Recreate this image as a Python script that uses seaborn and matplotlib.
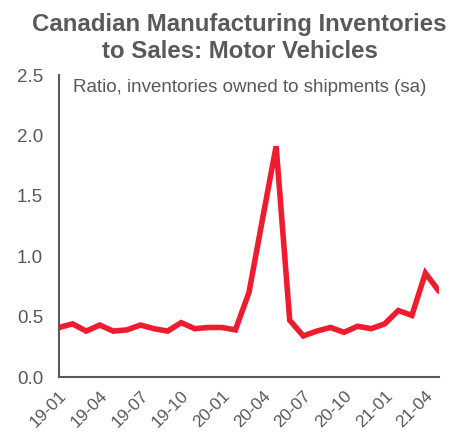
import matplotlib
matplotlib.use("Agg")
import matplotlib.pyplot as plt
import seaborn as sns
import pandas as pd
import numpy as np

months = ["19-01", "19-02", "19-03", "19-04", "19-05", "19-06", "19-07", "19-08",
          "19-09", "19-10", "19-11", "19-12", "20-01", "20-02", "20-03", "20-04",
          "20-05", "20-06", "20-07", "20-08", "20-09", "20-10", "20-11", "20-12",
          "21-01", "21-02", "21-03", "21-04", "21-05"]
ratio = [0.41, 0.44, 0.38, 0.43, 0.38, 0.39, 0.43, 0.40, 0.38, 0.45, 0.40, 0.41,
         0.41, 0.39, 0.70, 1.31, 1.91, 0.47, 0.34, 0.38, 0.41, 0.37, 0.42, 0.40,
         0.44, 0.55, 0.51, 0.86, 0.71]
y_ticks = [0.0, 0.5, 1.0, 1.5, 2.0, 2.5]

df = pd.DataFrame({"pos": np.arange(len(months)), "ratio": ratio})

sns.set_style("white")
plt.rcParams["font.family"] = ["Liberation Sans", "DejaVu Sans"]
grey = "#595959"

fig = plt.figure(figsize=(4.67, 4.34), dpi=100)
ax = fig.add_axes([59 / 467, 1 - 377 / 434, (439 - 59) / 467, (377 - 75) / 434])

sns.lineplot(data=df, x="pos", y="ratio", ax=ax, color="#EE1C2E", linewidth=4,
             solid_joinstyle="miter")

ax.set_xlim(0, len(months) - 1)
ax.set_ylim(0, 2.5)
ax.set_yticks(y_ticks)
ax.set_yticklabels([f"{v:.1f}" for v in y_ticks], fontsize=13.5, color=grey)
tick_pos = list(range(0, len(months), 3))
ax.set_xticks(tick_pos)
ax.set_xticklabels([months[i] for i in tick_pos], rotation=45, ha="right",
                   rotation_mode="anchor", fontsize=12.5, color=grey)
ax.set_xlabel("")
ax.set_ylabel("")

for side in ["top", "right"]:
    ax.spines[side].set_visible(False)
for side in ["left", "bottom"]:
    ax.spines[side].set_color(grey)
    ax.spines[side].set_linewidth(1.5)

ax.tick_params(axis="y", direction="in", length=5, width=1.5, color=grey, pad=11.5)
ax.tick_params(axis="x", direction="out", length=5, width=1.5, color=grey, pad=3)

ax.text(14 / 380, 1 - 4 / 302, "Ratio, inventories owned to shipments (sa)",
        transform=ax.transAxes, fontsize=13.5, color=grey, va="top", ha="left")

fig.text(239.5 / 467, 1 - 13 / 434, "Canadian Manufacturing Inventories\nto Sales: Motor Vehicles",
         ha="center", va="top", fontsize=17.3, fontweight="bold", color=grey,
         linespacing=1.2)

fig.savefig("out.png", dpi=100)
